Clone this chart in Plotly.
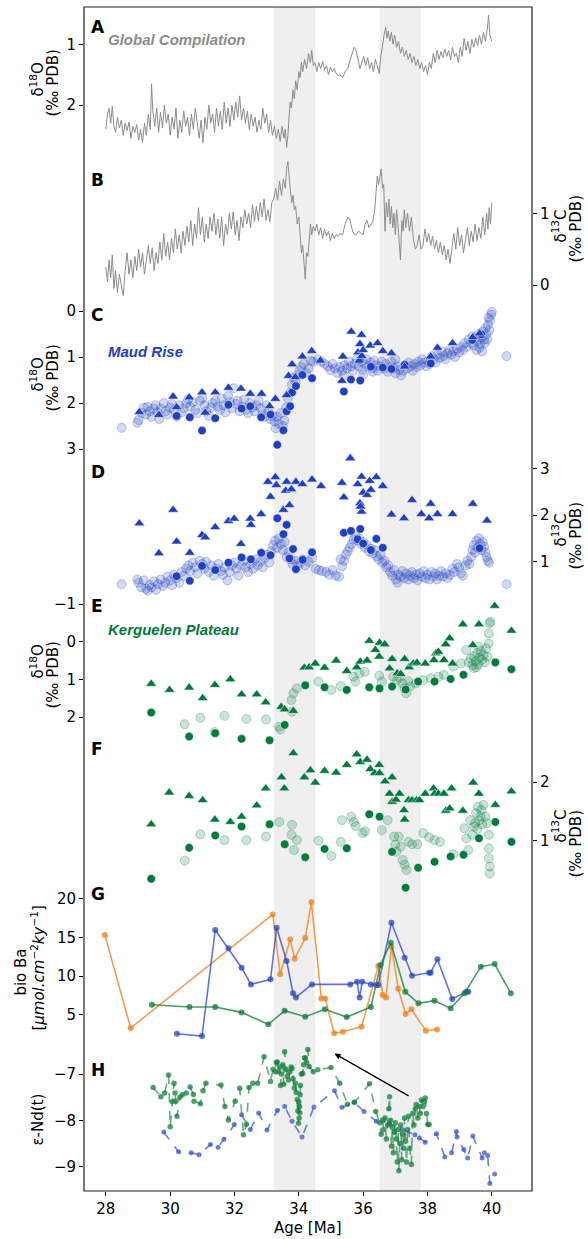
import plotly.graph_objects as go

# ---------------- DATA ----------------
age_ticks = [28, 30, 32, 34, 36, 38, 40]
shade_bands = [(33.22, 34.51), (36.51, 37.80)]

# A: global compilation d18O (age, value)
a_global_d18o = [
(28.00,2.40),(28.05,2.15),(28.10,2.05),(28.15,2.30),(28.20,2.02),(28.25,2.35),(28.30,2.45),(28.36,2.20),
(28.42,2.38),(28.48,2.25),(28.54,2.50),(28.60,2.30),(28.66,2.42),(28.72,2.28),(28.78,2.55),(28.84,2.35),
(28.90,2.45),(28.96,2.32),(29.02,2.58),(29.08,2.40),(29.14,2.62),(29.20,2.30),(29.26,2.50),(29.32,2.15),
(29.38,2.40),(29.42,1.65),(29.46,2.10),(29.52,2.35),(29.58,2.05),(29.64,2.45),(29.70,2.12),(29.76,2.38),
(29.82,2.00),(29.88,2.30),(29.94,2.15),(30.00,2.50),(30.06,2.20),(30.12,2.40),(30.18,2.05),(30.24,2.55),
(30.30,2.25),(30.36,2.45),(30.42,2.10),(30.48,2.35),(30.54,2.20),(30.60,2.50),(30.66,2.15),(30.72,2.40),
(30.78,2.05),(30.84,2.30),(30.90,2.55),(30.96,2.25),(31.02,2.62),(31.08,2.20),(31.14,2.40),(31.20,2.00),
(31.26,2.30),(31.32,2.15),(31.38,2.45),(31.44,2.05),(31.50,2.35),(31.56,2.10),(31.62,2.40),(31.68,1.95),
(31.74,2.30),(31.80,2.05),(31.86,2.35),(31.92,2.00),(31.98,2.25),(32.04,1.95),(32.10,2.20),(32.16,1.85),
(32.22,2.25),(32.28,2.05),(32.34,2.30),(32.40,2.10),(32.46,2.40),(32.52,2.15),(32.58,2.35),(32.64,2.20),
(32.70,2.45),(32.76,2.25),(32.82,2.40),(32.88,2.05),(32.94,2.30),(33.00,2.15),(33.06,2.45),(33.12,2.25),
(33.18,2.50),(33.24,2.35),(33.30,2.55),(33.36,2.40),(33.42,2.60),(33.48,2.35),(33.54,2.55),(33.58,2.40),
(33.62,2.70),(33.66,2.50),(33.70,2.20),(33.73,1.95),(33.77,2.05),(33.82,1.75),(33.86,1.90),(33.90,1.60),
(33.95,1.75),(34.00,1.45),(34.04,1.55),(34.08,1.30),(34.12,1.45),(34.18,1.25),(34.24,1.40),(34.30,1.15),
(34.36,1.30),(34.40,1.10),(34.45,1.35),(34.50,1.30),(34.56,1.45),(34.62,1.30),(34.68,1.40),(34.74,1.28),
(34.80,1.42),(34.86,1.35),(34.92,1.50),(34.98,1.38),(35.04,1.45),(35.10,1.40),(35.16,1.48),(35.22,1.52),
(35.28,1.50),(35.36,1.55),(35.44,1.45),(35.52,1.40),(35.60,1.25),(35.66,1.15),(35.72,1.05),(35.78,1.10),
(35.84,1.25),(35.90,1.40),(35.96,1.30),(36.02,1.20),(36.08,1.35),(36.14,1.22),(36.20,1.40),(36.26,1.30),
(36.32,1.45),(36.38,1.25),(36.44,1.35),(36.50,1.48),(36.55,1.20),(36.60,1.00),(36.65,0.85),(36.70,0.72),
(36.74,0.90),(36.78,0.78),(36.83,0.95),(36.88,0.80),(36.93,1.00),(36.98,0.85),(37.04,1.05),(37.10,0.95),
(37.16,1.15),(37.22,1.05),(37.28,1.20),(37.34,1.10),(37.40,1.25),(37.46,1.15),(37.52,1.30),(37.58,1.20),
(37.64,1.35),(37.70,1.25),(37.76,1.40),(37.82,1.30),(37.88,1.45),(37.94,1.35),(38.00,1.50),(38.06,1.30),
(38.12,1.40),(38.18,1.15),(38.24,1.30),(38.30,1.10),(38.36,1.25),(38.42,1.12),(38.48,1.22),(38.54,1.08),
(38.60,1.20),(38.66,1.10),(38.72,1.25),(38.78,1.05),(38.84,1.20),(38.90,1.15),(38.96,1.30),(39.02,1.05),
(39.08,1.20),(39.14,0.90),(39.20,1.10),(39.26,0.95),(39.32,1.15),(39.38,0.92),(39.44,1.05),(39.50,0.90),
(39.56,1.02),(39.62,0.85),(39.68,1.00),(39.74,0.80),(39.80,0.95),(39.86,0.75),(39.90,0.52),(39.94,0.85),
(40.00,0.95)]

# B: global compilation d13C
b_global_d13c = [
(28.00,0.25),(28.05,0.05),(28.10,0.35),(28.15,0.10),(28.20,0.42),(28.25,-0.05),(28.30,0.20),(28.36,-0.10),
(28.42,0.15),(28.48,-0.02),(28.54,-0.15),(28.60,0.20),(28.66,0.45),(28.72,0.15),(28.78,0.35),(28.84,0.10),
(28.90,0.40),(28.96,0.20),(29.02,0.50),(29.08,0.25),(29.14,0.45),(29.20,0.15),(29.26,0.38),(29.32,0.55),
(29.38,0.30),(29.44,0.52),(29.50,0.20),(29.56,0.45),(29.62,0.30),(29.68,0.60),(29.74,0.35),(29.80,0.72),
(29.86,0.40),(29.92,0.60),(29.98,0.35),(30.04,0.65),(30.10,0.45),(30.16,0.78),(30.22,0.50),(30.28,0.70),
(30.34,0.45),(30.40,0.75),(30.46,0.55),(30.52,0.82),(30.58,0.60),(30.64,0.90),(30.70,0.55),(30.76,0.85),
(30.82,0.65),(30.88,1.08),(30.94,0.70),(31.00,0.95),(31.06,0.60),(31.12,0.85),(31.18,0.65),(31.24,0.95),
(31.30,0.75),(31.36,1.00),(31.42,0.70),(31.48,0.92),(31.54,0.65),(31.60,0.95),(31.66,0.55),(31.72,0.85),
(31.78,0.70),(31.84,1.00),(31.90,0.78),(31.96,1.02),(32.02,0.70),(32.08,0.90),(32.14,0.62),(32.20,0.95),
(32.26,0.80),(32.32,1.05),(32.38,0.85),(32.44,1.00),(32.50,0.80),(32.56,1.12),(32.62,0.88),(32.68,1.10),
(32.74,0.90),(32.80,1.15),(32.86,0.95),(32.92,1.20),(32.98,0.90),(33.04,1.05),(33.10,0.88),(33.16,1.15),
(33.22,1.20),(33.28,1.35),(33.34,1.18),(33.40,1.45),(33.46,1.25),(33.52,1.48),(33.58,1.35),(33.62,1.62),
(33.66,1.72),(33.70,1.45),(33.74,1.30),(33.78,1.15),(33.82,1.25),(33.86,1.05),(33.90,1.10),(33.95,0.85),
(34.00,0.95),(34.04,0.70),(34.08,0.45),(34.12,0.55),(34.16,0.35),(34.20,0.08),(34.24,0.45),(34.28,0.40),
(34.32,0.60),(34.36,0.85),(34.40,0.70),(34.45,0.82),(34.50,0.75),(34.56,0.85),(34.62,0.70),(34.68,0.80),
(34.74,0.65),(34.80,0.78),(34.86,0.68),(34.92,0.75),(34.98,0.62),(35.04,0.72),(35.10,0.65),(35.16,0.70),
(35.22,0.68),(35.28,0.72),(35.36,0.70),(35.44,0.85),(35.52,0.95),(35.58,0.92),(35.64,0.80),(35.70,0.72),
(35.78,0.70),(35.86,0.75),(35.94,0.72),(36.00,0.70),(36.06,0.85),(36.12,0.90),(36.18,0.80),(36.24,0.85),
(36.30,0.88),(36.36,1.05),(36.40,1.30),(36.44,1.52),(36.48,1.40),(36.52,1.55),(36.56,1.62),(36.60,1.35),
(36.64,1.40),(36.68,0.75),(36.72,1.15),(36.76,0.95),(36.80,1.20),(36.84,0.85),(36.88,1.10),(36.92,0.80),
(36.96,1.00),(37.00,0.70),(37.04,1.05),(37.08,0.85),(37.12,0.60),(37.16,0.35),(37.20,0.90),(37.24,0.75),
(37.28,1.05),(37.32,0.80),(37.38,1.00),(37.44,0.75),(37.50,0.95),(37.56,0.65),(37.62,0.50),(37.68,0.55),
(37.74,0.70),(37.80,0.50),(37.86,0.55),(37.92,0.78),(37.98,0.60),(38.04,0.72),(38.10,0.55),(38.16,0.68),
(38.22,0.50),(38.28,0.62),(38.34,0.45),(38.40,0.60),(38.46,0.42),(38.52,0.55),(38.58,0.35),(38.64,0.50),
(38.70,0.30),(38.76,0.55),(38.82,0.72),(38.88,0.50),(38.94,0.80),(39.00,0.55),(39.06,0.70),(39.12,0.45),
(39.18,0.65),(39.24,0.80),(39.30,0.55),(39.36,0.75),(39.42,0.60),(39.48,0.85),(39.54,0.62),(39.60,0.80),
(39.66,0.65),(39.72,0.95),(39.78,0.70),(39.84,1.00),(39.88,0.78),(39.92,1.08),(39.96,0.85),(40.00,1.15)]

# C: Maud Rise d18O
c_maud_tri = [
(29.04,2.20),(29.65,2.26),(30.09,1.86),(30.20,2.09),(30.59,1.88),(30.99,1.77),(31.09,2.21),(31.40,1.77),
(31.81,1.67),(32.20,1.69),(32.49,1.80),(32.84,1.80),(33.09,2.07),(33.27,1.91),(33.62,1.83),(33.68,1.41),
(33.79,1.16),(33.89,1.44),(34.11,0.99),(34.40,0.87),(34.67,1.08),(35.37,0.99),(35.34,1.52),(35.63,0.45),
(35.60,3.19),(35.95,0.52),(35.90,0.72),(35.84,0.90),(35.88,1.08),(35.96,0.98),(36.00,0.85),(36.22,0.75),
(36.45,0.70),(36.61,0.87),(36.88,0.92),(37.29,1.21),(38.10,0.99),(38.31,0.80),(38.78,0.70),(39.41,0.57),
(39.62,0.49)]
c_maud_dot = [
(30.20,2.28),(30.61,2.31),(30.99,2.60),(31.40,2.33),(31.81,2.04),(32.22,2.12),(32.49,2.07),(32.83,2.31),
(33.12,2.25),(33.33,2.91),(33.52,2.59),(33.62,2.18),(33.73,2.07),(33.79,1.77),(33.91,1.63),(34.11,1.39),
(34.41,1.46),(35.40,1.75),(35.62,1.49),(35.91,1.51),(35.90,1.07),(36.24,1.21),(36.61,1.23),(36.88,1.26),
(37.29,1.17),(38.10,1.14),(39.39,0.63),(39.68,0.51)]
c_maud_light = [
(28.49,2.54),(28.98,2.43),(29.02,2.37),(29.10,2.22),(29.18,2.10),(29.25,2.25),(29.30,2.08),(29.36,2.18),
(29.42,2.30),(29.48,2.12),(29.55,2.05),(29.60,2.20),(29.66,2.35),(29.72,2.12),(29.80,2.00),(29.86,2.18),
(29.92,2.25),(30.00,2.10),(30.05,2.02),(30.12,2.15),(30.20,2.30),(30.28,2.05),(30.35,2.20),(30.42,2.12),
(30.50,2.00),(30.56,1.92),(30.62,2.08),(30.70,1.98),(30.78,2.15),(30.85,2.22),(30.92,1.95),(31.00,1.90),
(31.06,2.05),(31.12,2.18),(31.20,2.28),(31.26,2.10),(31.32,2.00),(31.40,1.95),(31.48,2.08),(31.55,2.15),
(31.60,1.90),(31.66,2.05),(31.72,2.20),(31.80,1.85),(31.86,1.98),(31.92,2.12),(31.98,1.68),(32.04,2.02),
(32.10,1.95),(32.16,2.18),(32.24,2.08),(32.30,1.92),(32.36,2.15),(32.42,2.22),(32.48,2.00),(32.55,2.10),
(32.62,2.18),(32.68,2.05),(32.75,1.95),(32.82,2.12),(32.88,2.25),(32.95,2.30),(33.00,2.05),(33.06,2.18),
(33.12,2.35),(33.18,2.28),(33.24,2.40),(33.28,2.55),(33.32,2.30),(33.38,2.45),(33.44,2.22),(33.50,2.50),
(33.55,2.38),(33.60,2.10),(33.66,1.90),(33.72,1.78),(33.78,1.60),(33.84,1.45),(33.90,1.55),(33.96,1.40),
(34.02,1.30),(34.08,1.22),(34.15,1.15),(34.22,1.35),(34.30,1.25),(34.38,1.08),(34.45,1.10),(34.60,1.05),
(34.70,1.10),(34.80,1.15),(34.90,1.20),(34.98,1.28),(35.05,1.15),(35.12,1.25),(35.20,1.35),(35.28,1.22),
(35.35,1.30),(35.40,1.40),(35.42,1.18),(35.50,1.25),(35.56,1.10),(35.62,1.20),(35.68,1.30),(35.74,1.15),
(35.80,1.05),(35.86,1.20),(35.92,1.10),(35.98,1.28),(36.00,1.38),(36.04,1.15),(36.10,1.05),(36.16,1.20),
(36.22,1.12),(36.28,1.25),(36.30,1.32),(36.34,1.08),(36.40,1.18),(36.46,1.30),(36.52,1.20),(36.58,1.10),
(36.64,1.25),(36.70,1.15),(36.76,1.32),(36.82,1.22),(36.88,1.10),(36.94,1.25),(37.00,1.35),(37.00,1.05),
(37.06,1.20),(37.12,1.28),(37.18,1.40),(37.24,1.30),(37.30,1.18),(37.36,1.25),(37.42,1.12),(37.48,1.20),
(37.54,1.30),(37.60,1.15),(37.66,1.22),(37.72,1.10),(37.78,1.18),(37.84,1.05),(37.90,1.12),(37.96,1.20),
(38.02,1.08),(38.08,1.15),(38.14,0.98),(38.20,1.05),(38.26,1.12),(38.32,0.95),(38.38,1.02),(38.44,0.88),
(38.50,0.98),(38.56,1.05),(38.62,0.92),(38.68,0.85),(38.74,0.95),(38.80,0.88),(38.86,1.00),(38.92,0.82),
(38.98,0.90),(39.04,0.78),(39.10,0.85),(39.16,0.70),(39.22,0.78),(39.28,0.62),(39.34,0.70),(39.40,0.55),
(39.44,0.75),(39.48,0.60),(39.52,0.85),(39.56,0.65),(39.60,0.50),(39.62,0.80),(39.64,0.72),(39.68,0.58),
(39.70,0.88),(39.72,0.45),(39.76,0.62),(39.78,0.70),(39.80,0.38),(39.84,0.50),(39.86,0.62),(39.88,0.30),
(39.90,0.15),(39.92,0.42),(39.95,0.20),(39.98,0.08),(40.00,0.02),(40.46,0.98)]

# D: Maud Rise d13C
d_maud_tri = [
(29.04,1.82),(29.65,1.18),(30.09,2.11),(30.20,1.43),(30.61,1.19),(30.99,1.57),(31.09,1.52),(31.40,1.74),
(31.81,1.87),(31.99,1.92),(32.20,1.38),(32.49,1.92),(32.51,1.79),(32.83,2.02),(33.04,2.71),(33.27,2.81),
(33.30,2.64),(33.12,2.39),(33.52,2.11),(33.71,2.21),(33.62,2.71),(33.59,2.52),(33.77,2.55),(33.91,2.71),
(34.11,2.66),(34.41,2.76),(34.69,2.62),(35.34,2.69),(35.40,2.38),(35.60,3.21),(35.83,2.66),(35.95,2.82),
(35.90,2.25),(35.95,2.07),(35.92,2.18),(36.00,2.48),(36.12,2.43),(36.24,2.54),(36.41,2.81),(36.20,2.73),
(36.61,2.62),(36.88,2.01),(37.27,1.93),(37.52,2.32),(37.81,2.02),(38.05,1.93),(38.10,2.24),(38.31,2.02),
(38.78,2.02),(39.41,2.24),(39.85,1.88)]
d_maud_dot = [
(30.20,0.69),(30.61,0.59),(30.99,0.91),(31.40,0.82),(31.81,0.98),(32.22,1.09),(32.51,1.05),(32.83,1.19),
(33.12,1.14),(33.33,1.93),(33.62,1.79),(33.52,1.59),(33.82,1.27),(33.71,1.07),(33.91,0.84),(34.12,1.04),
(34.41,1.20),(35.40,1.62),(35.62,1.66),(35.91,1.70),(35.83,1.48),(36.00,1.39),(36.24,1.25),(36.41,1.49),
(36.61,1.30),(39.62,1.29)]
d_maud_light = [
(28.49,0.52),(28.98,0.62),(29.02,0.55),(29.10,0.45),(29.18,0.60),(29.25,0.42),(29.30,0.38),(29.36,0.50),
(29.42,0.45),(29.50,0.58),(29.56,0.40),(29.62,0.52),(29.70,0.62),(29.78,0.48),(29.85,0.55),(29.92,0.68),
(30.00,0.60),(30.06,0.50),(30.12,0.72),(30.20,0.65),(30.28,0.55),(30.35,0.78),(30.42,0.70),(30.50,0.85),
(30.56,0.92),(30.62,0.80),(30.70,0.98),(30.78,0.88),(30.85,0.75),(30.92,1.02),(31.00,0.95),(31.06,0.85),
(31.12,1.00),(31.20,0.78),(31.28,0.92),(31.35,0.70),(31.42,0.85),(31.50,0.95),(31.58,0.80),(31.64,0.72),
(31.70,0.88),(31.78,0.60),(31.85,0.78),(31.92,0.92),(32.00,0.98),(32.06,0.85),(32.12,0.70),(32.20,0.92),
(32.28,1.02),(32.35,0.88),(32.42,0.78),(32.50,0.95),(32.58,0.85),(32.65,1.05),(32.72,0.92),(32.80,1.00),
(32.88,0.88),(32.95,1.08),(33.02,1.15),(33.08,0.98),(33.14,1.22),(33.20,1.35),(33.26,1.45),(33.32,1.30),
(33.38,1.50),(33.44,1.38),(33.50,1.25),(33.56,1.42),(33.62,1.10),(33.68,1.20),(33.74,1.05),(33.80,0.95),
(33.88,1.02),(33.96,0.90),(34.04,0.98),(34.12,1.05),(34.20,0.92),(34.30,1.00),(34.42,1.08),(34.52,0.85),
(34.62,0.82),(34.72,0.80),(34.85,0.78),(34.95,0.72),(35.05,0.82),(35.15,0.70),(35.25,0.68),(35.30,1.05),
(35.35,0.90),(35.40,1.02),(35.46,1.15),(35.52,1.22),(35.58,1.30),(35.64,1.38),(35.70,1.48),(35.76,1.55),
(35.82,1.45),(35.88,1.50),(35.94,1.38),(36.00,1.42),(36.06,1.30),(36.12,1.35),(36.18,1.22),(36.24,1.28),
(36.30,1.18),(36.36,1.25),(36.42,1.12),(36.48,1.05),(36.54,1.15),(36.60,0.98),(36.66,1.02),(36.72,0.88),
(36.78,0.92),(36.84,0.78),(36.90,0.70),(36.96,0.82),(37.02,0.62),(37.07,0.55),(37.10,0.72),(37.16,0.68),
(37.22,0.80),(37.28,0.65),(37.34,0.75),(37.40,0.62),(37.46,0.70),(37.52,0.78),(37.58,0.65),(37.64,0.72),
(37.70,0.60),(37.76,0.75),(37.82,0.68),(37.88,0.80),(37.94,0.65),(38.00,0.72),(38.06,0.62),(38.12,0.78),
(38.18,0.68),(38.24,0.75),(38.30,0.62),(38.36,0.70),(38.42,0.80),(38.48,0.68),(38.56,0.75),(38.62,0.65),
(38.70,0.72),(38.78,0.85),(38.84,0.78),(38.92,0.95),(38.98,0.88),(39.04,0.75),(39.10,0.70),(39.18,0.92),
(39.24,1.02),(39.30,0.95),(39.36,1.10),(39.40,1.25),(39.44,1.35),(39.48,1.20),(39.52,1.45),(39.56,1.30),
(39.60,1.50),(39.64,1.38),(39.68,1.25),(39.72,1.42),(39.76,1.32),(39.80,1.20),(39.84,1.10),(39.88,1.02),
(39.92,0.98),(40.46,0.52)]

# E: Kerguelen Plateau d18O
e_kerg_tri = [
(29.41,1.12),(29.98,1.28),(30.59,1.22),(31.01,1.50),(31.39,1.15),(31.87,1.00),(32.22,1.40),(32.69,1.40),
(32.97,1.61),(33.45,1.73),(33.56,1.80),(33.83,1.84),(34.17,0.69),(34.32,0.68),(34.51,0.58),(34.80,0.69),
(35.16,0.50),(35.49,0.78),(35.80,0.68),(35.91,0.53),(36.12,0.50),(36.19,-0.02),(36.38,0.22),(36.51,0.03),
(36.67,0.07),(36.50,0.40),(36.82,0.71),(36.90,0.46),(37.06,0.84),(37.17,0.86),(37.29,0.46),(37.43,0.68),
(37.56,0.58),(37.67,0.56),(37.93,0.58),(38.20,0.49),(38.26,0.31),(38.34,0.27),(38.51,0.49),(38.69,-0.09),
(38.57,0.07),(38.78,0.58),(39.10,-0.46),(39.41,0.09),(39.60,-0.46),(40.09,-0.95),(40.61,-0.29)]
e_kerg_dot = [
(29.41,1.88),(30.59,2.52),(31.40,2.43),(32.22,2.58),(33.09,2.62),(33.56,2.21),(34.20,1.16),(34.80,1.21),
(35.49,1.28),(36.19,1.21),(36.51,1.24),(36.90,1.19),(37.32,1.27),(37.71,1.06),(38.22,1.06),(38.72,0.99),
(39.12,0.88),(40.11,0.55),(40.61,0.73)]
e_kerg_light = [
(30.45,2.19),(30.94,2.02),(31.38,2.40),(31.69,1.97),(32.37,2.05),(32.98,2.06),(33.39,2.26),(33.42,2.33),
(33.79,1.86),(33.77,1.55),(33.83,1.37),(33.94,1.24),(34.61,1.06),(35.01,1.28),(35.30,1.18),(35.70,0.93),
(35.76,1.06),(35.88,0.84),(36.05,0.80),(36.50,0.90),(36.58,1.06),(36.93,0.93),(37.05,1.02),(37.12,0.95),
(37.22,1.11),(37.28,1.24),(37.34,1.37),(37.40,1.05),(37.46,1.19),(37.64,1.11),(37.87,1.02),(38.10,0.97),
(38.34,0.93),(38.51,0.88),(38.80,0.66),(39.04,0.58),(39.21,0.22),(39.28,0.55),(39.34,0.45),(39.40,0.62),
(39.44,0.70),(39.45,0.38),(39.50,0.52),(39.52,0.68),(39.55,0.30),(39.58,0.60),(39.60,0.13),(39.62,0.42),
(39.66,0.25),(39.70,0.48),(39.74,0.35),(39.78,0.55),(39.82,0.18),(39.86,0.40),(39.90,0.05),(39.91,-0.22),
(39.93,-0.49),(39.96,-0.53)]

# F: Kerguelen Plateau d13C
f_kerg_tri = [
(29.41,1.28),(29.97,1.82),(30.59,1.76),(31.01,1.69),(31.39,1.36),(31.87,1.32),(32.22,1.41),(32.69,1.60),
(32.97,1.89),(33.46,2.08),(33.55,1.89),(33.83,2.49),(34.17,2.08),(34.36,2.20),(34.51,1.99),(34.80,2.19),
(35.16,2.16),(35.49,2.29),(35.80,2.47),(35.91,2.34),(36.12,2.38),(36.22,2.22),(36.36,2.15),(36.50,2.29),
(36.51,2.15),(36.68,2.01),(36.90,2.08),(36.82,1.80),(36.90,1.66),(37.02,1.70),(37.13,1.80),(37.27,1.52),
(37.29,1.36),(37.41,1.69),(37.52,1.69),(37.66,1.69),(37.75,1.69),(37.93,1.80),(38.19,1.89),(38.22,1.80),
(38.34,1.80),(38.51,1.80),(38.57,1.51),(38.69,1.55),(38.75,1.89),(39.10,1.51),(39.42,1.99),(39.60,1.80),
(40.11,1.61),(40.61,1.84)]
f_kerg_dot = [
(29.41,0.35),(30.59,0.88),(31.40,1.09),(32.22,1.24),(33.09,1.28),(33.56,0.94),(34.20,0.72),(34.80,0.86),
(35.49,0.87),(36.19,1.45),(36.51,1.41),(36.90,0.81),(37.32,0.20),(37.71,0.54),(38.22,0.64),(38.72,0.73),
(39.12,0.76),(39.60,1.04),(40.11,1.32),(40.61,0.98)]
f_kerg_light = [
(30.45,0.66),(30.94,1.11),(31.69,1.01),(32.37,1.01),(32.98,1.07),(33.39,1.32),(33.79,1.27),(33.77,1.10),
(33.85,0.84),(33.94,1.01),(34.61,1.00),(35.01,0.74),(35.30,0.98),(35.34,1.35),(35.63,1.41),(35.71,1.32),
(35.77,1.25),(35.98,1.13),(36.06,1.16),(36.58,1.18),(36.76,1.35),(36.96,1.07),(37.00,0.93),(37.03,0.81),
(37.11,1.07),(37.17,0.90),(37.23,0.67),(37.29,0.59),(37.35,0.50),(37.41,0.98),(37.52,0.94),(37.69,0.94),
(37.87,1.13),(38.05,1.06),(38.22,1.01),(38.39,0.98),(38.80,0.77),(39.15,1.21),(39.21,1.04),(39.27,0.84),
(39.33,1.35),(39.39,1.10),(39.45,1.24),(39.51,1.47),(39.57,1.58),(39.62,1.35),(39.68,1.52),(39.74,1.61),
(39.80,1.41),(39.85,1.30),(39.91,1.10),(39.91,0.87),(39.91,0.70),(39.94,0.56),(39.94,0.44),(39.48,1.30),
(39.55,1.20),(39.65,1.42),(39.70,1.28)]

# G: biogenic barium
g_ba_orange = [
(27.97,15.3),(28.77,3.28),(33.19,17.97),(33.42,10.22),(33.73,14.74),(33.87,12.24),(34.20,14.91),(34.39,19.57),
(34.70,7.11),(34.82,7.11),(35.10,2.59),(35.37,2.80),(35.95,3.45),(36.47,11.29),(36.61,7.54),(36.71,7.24),
(36.88,13.79),(37.09,8.36),(37.32,5.09),(37.50,5.69),(37.95,2.93),(38.30,3.10)]
g_ba_blue = [
(30.21,2.54),(30.99,2.24),(31.40,15.95),(31.81,13.58),(32.22,11.08),(32.51,8.92),(33.12,9.57),(33.31,16.25),
(33.62,11.94),(33.82,7.76),(33.91,7.24),(34.41,8.92),(35.60,8.92),(35.81,9.27),(35.89,7.24),(35.97,9.27),
(36.24,8.92),(36.41,8.84),(36.47,8.84),(36.88,16.90),(37.29,12.37),(37.52,10.04),(38.05,10.43),(38.10,10.43),
(38.31,12.16),(38.77,7.03),(39.21,7.97),(39.27,7.97)]
g_ba_green = [
(29.43,6.29),(30.60,5.99),(31.40,5.99),(32.22,5.30),(33.05,3.75),(33.56,5.52),(34.20,4.74),(34.81,5.69),
(35.49,4.70),(36.24,5.99),(36.54,11.42),(36.86,14.31),(37.31,7.97),(37.72,6.47),(38.22,6.81),(38.72,5.82),
(39.15,7.76),(39.66,11.21),(40.09,11.55),(40.59,7.76)]

# H: eps-Nd
h_end_blue = [
(29.80,-8.25),(30.26,-8.68),(30.65,-8.70),(30.90,-8.74),(31.25,-8.52),(31.49,-8.58),(31.67,-8.41),(31.99,-8.09),
(32.22,-7.88),(32.49,-8.20),(32.75,-7.84),(33.01,-8.21),(33.33,-7.79),(33.56,-7.70),(33.79,-8.02),(34.10,-8.36),
(34.47,-7.71),(35.11,-7.36),(35.34,-7.72),(35.72,-7.61),(36.03,-7.81),(36.41,-8.02),(36.82,-8.07),(37.23,-8.20),
(37.61,-8.31),(37.75,-8.38),(37.93,-8.47),(38.28,-8.29),(38.54,-8.79),(38.75,-8.70),(38.90,-8.24),(38.92,-8.36),
(39.13,-8.63),(39.25,-8.81),(39.41,-8.34),(39.70,-8.81),(39.77,-8.70),(39.87,-8.76),(39.94,-9.36),(40.09,-9.16)]
h_end_green = [
(29.47,-7.29),(29.71,-7.49),(29.83,-7.41),(29.95,-7.02),(30.00,-8.14),(30.06,-7.60),(30.12,-7.20),(30.15,-7.41),
(30.18,-7.59),(30.21,-7.91),(30.30,-7.50),(30.38,-7.45),(30.50,-7.41),(30.62,-7.28),(30.72,-7.44),(30.74,-7.59),
(30.94,-7.64),(31.02,-7.36),(31.11,-7.20),(31.58,-7.24),(31.70,-7.70),(31.81,-7.99),(32.02,-7.59),(32.16,-7.31),
(32.28,-8.31),(32.37,-8.09),(32.45,-7.29),(32.57,-7.20),(32.72,-7.20),(32.92,-6.63),(33.12,-7.16),(33.20,-6.90),
(33.27,-6.95),(33.30,-6.75),(33.33,-6.74),(33.36,-6.95),(33.40,-6.85),(33.43,-7.25),(33.46,-7.00),(33.50,-6.80),
(33.53,-7.22),(33.56,-6.52),(33.60,-6.90),(33.64,-7.05),(33.68,-7.13),(33.72,-6.95),(33.76,-6.85),(33.79,-6.88),
(33.82,-7.10),(33.86,-7.30),(33.89,-7.20),(33.92,-7.40),(33.95,-7.55),(33.97,-7.80),(33.99,-8.06),(34.00,-7.60),
(34.01,-7.95),(34.02,-7.70),(34.03,-7.84),(34.04,-7.45),(34.05,-7.25),(34.08,-7.00),(34.12,-6.99),(34.15,-6.80),
(34.18,-6.65),(34.20,-6.66),(34.24,-6.75),(34.28,-6.47),(34.32,-6.84),(34.45,-6.95),(34.59,-6.91),(35.00,-6.86),
(35.27,-7.20),(35.51,-7.65),(35.73,-7.61),(36.20,-7.21),(36.39,-7.81),(36.52,-8.05),(36.56,-8.30),(36.60,-8.00),
(36.64,-8.20),(36.68,-7.95),(36.72,-8.40),(36.76,-8.10),(36.80,-7.75),(36.82,-7.49),(36.85,-8.00),(36.88,-8.56),
(36.91,-8.15),(36.94,-8.70),(36.97,-8.25),(37.00,-8.05),(37.03,-8.40),(37.06,-8.90),(37.09,-8.20),(37.11,-9.09),
(37.14,-8.50),(37.17,-8.10),(37.20,-8.85),(37.23,-8.30),(37.26,-8.60),(37.29,-7.95),(37.32,-8.45),(37.35,-8.90),
(37.38,-8.20),(37.41,-7.91),(37.45,-8.60),(37.50,-8.95),(37.54,-7.85),(37.58,-8.10),(37.62,-7.75),(37.65,-7.66),
(37.70,-7.95),(37.74,-7.70),(37.78,-7.85),(37.81,-7.56),(37.86,-7.70),(37.90,-7.60),(37.93,-7.52),(37.97,-7.85),
(38.01,-8.09),(38.05,-8.09)]
h_arrow = ((37.46, -7.49), (35.11, -6.56))  # (tail, head) in age / eps-Nd

# ---------------- STYLE ----------------
GRAY = "#8c8c8c"
BLUE = "#1f3fc4"
BLUE_LIGHT = "rgba(31,63,196,0.20)"
BLUE_LIGHT_EDGE = "rgba(31,63,196,0.28)"
GREEN = "#007a3d"
GREEN_LIGHT = "rgba(0,122,61,0.20)"
GREEN_LIGHT_EDGE = "rgba(0,122,61,0.28)"
FS = 15
TICKFONT = dict(family="DejaVu Sans", size=FS, color="black")

L, R, T, B = 84.4, 532.5, 7.0, 1191.0
W, H = 588, 1239
PH = B - T
PW = R - L


def yrange(v1, p1, v2, p2):
    slope = (v2 - v1) / (p2 - p1)
    return [v1 + (B - p1) * slope, v1 + (T - p1) * slope]


def px_x(p):
    return (p - L) / PW


def px_y(p):
    return (B - p) / PH


def unzip(pairs):
    return [p[0] for p in pairs], [p[1] for p in pairs]


fig = go.Figure()

axes = {
    "y2": (yrange(1, 44.3, 2, 105.0), [1, 2], "left"),          # A
    "y3": (yrange(1, 213.3, 0, 285.0), [0, 1], "right"),        # B
    "y4": (yrange(0, 311.0, 3, 449.0), [0, 1, 2, 3], "left"),   # C
    "y5": (yrange(3, 468.3, 1, 561.7), [1, 2, 3], "right"),     # D
    "y6": (yrange(-1, 604.0, 2, 717.0), [-1, 0, 1, 2], "left"), # E
    "y7": (yrange(2, 782.0, 1, 840.7), [1, 2], "right"),        # F
    "y8": (yrange(20, 898.7, 5, 1014.7), [5, 10, 15, 20], "left"),  # G
    "y": (yrange(-7, 1074.0, -9, 1166.7), [-9, -8, -7], "left"),    # H
}


def tick_text(vals):
    return [("\u2212" + str(abs(v))) if v < 0 else str(v) for v in vals]


def scat(pairs, yax, mode="markers", **kw):
    x, y = unzip(pairs)
    fig.add_trace(go.Scatter(x=x, y=y, yaxis=yax, xaxis="x", mode=mode,
                             showlegend=False, hoverinfo="skip", **kw))


scat(a_global_d18o, "y2", mode="lines", line=dict(color=GRAY, width=1))
scat(b_global_d13c, "y3", mode="lines", line=dict(color=GRAY, width=1))

for light, dot, tri, yax, col, lfill, ledge in [
    (c_maud_light, c_maud_dot, c_maud_tri, "y4", BLUE, BLUE_LIGHT, BLUE_LIGHT_EDGE),
    (d_maud_light, d_maud_dot, d_maud_tri, "y5", BLUE, BLUE_LIGHT, BLUE_LIGHT_EDGE),
    (e_kerg_light, e_kerg_dot, e_kerg_tri, "y6", GREEN, GREEN_LIGHT, GREEN_LIGHT_EDGE),
    (f_kerg_light, f_kerg_dot, f_kerg_tri, "y7", GREEN, GREEN_LIGHT, GREEN_LIGHT_EDGE),
]:
    scat(light, yax, marker=dict(symbol="circle", size=9, color=lfill,
                                  line=dict(color=ledge, width=1)))
    scat(dot, yax, marker=dict(symbol="circle", size=8.5, color=col,
                                line=dict(color="white", width=0.5)))
    scat(tri, yax, marker=dict(symbol="triangle-up", size=9.5, color=col,
                                line=dict(color="white", width=0.5)))

for pairs, col in [(g_ba_orange, "rgba(245,130,32,0.78)"),
                   (g_ba_blue, "rgba(40,70,200,0.75)"),
                   (g_ba_green, "rgba(20,128,60,0.78)")]:
    scat(pairs, "y8", mode="lines+markers", line=dict(color=col, width=1.6),
         marker=dict(size=6, color=col))

scat(h_end_blue, "y", mode="lines+markers",
     line=dict(color="rgba(60,85,210,0.75)", width=1.6, dash="dash"),
     marker=dict(size=5, color="rgba(60,85,210,0.75)"))
scat(h_end_green, "y", mode="lines+markers",
     line=dict(color="rgba(20,128,60,0.65)", width=1.6, dash="dash"),
     marker=dict(size=5.5, color="rgba(20,128,60,0.75)"))

layout = dict(
    width=W, height=H,
    margin=dict(l=L, r=W - R, t=T, b=H - B, pad=0),
    paper_bgcolor="white", plot_bgcolor="white",
    showlegend=False,
    hovermode=False,
    xaxis=dict(range=[27.32, 41.25], tickvals=age_ticks, ticktext=[str(t) for t in age_ticks],
               ticks="outside", ticklen=4, tickwidth=1, tickcolor="black",
               showgrid=False, zeroline=False, showline=False, tickfont=TICKFONT,
               automargin=False),
)

for name, (rng, tv, side) in axes.items():
    key = "yaxis" if name == "y" else "yaxis" + name[1:]
    d = dict(range=rng, tickvals=tv, ticktext=tick_text(tv), side=side,
             ticks="outside", ticklen=4, tickwidth=1, tickcolor="black",
             showgrid=False, zeroline=False, showline=False, tickfont=TICKFONT,
             anchor="x", automargin=False)
    if name != "y":
        d["overlaying"] = "y"
    layout[key] = d

shapes = []
for x0, x1 in shade_bands:
    shapes.append(dict(type="rect", xref="x", yref="paper", x0=x0, x1=x1, y0=0, y1=1,
                       fillcolor="#efefef", line=dict(width=0), layer="below"))
shapes.append(dict(type="rect", xref="paper", yref="paper", x0=0, x1=1, y0=0, y1=1,
                   line=dict(color="#222", width=1.2), fillcolor="rgba(0,0,0,0)", layer="above"))
layout["shapes"] = shapes

ann = []
for letter, py in [("A", 27), ("B", 180), ("C", 315), ("D", 472),
                   ("E", 606), ("F", 749), ("G", 894), ("H", 1070)]:
    ann.append(dict(text="<b>%s</b>" % letter, xref="paper", yref="paper",
                    x=px_x(89), y=px_y(py), xanchor="left", yanchor="middle",
                    showarrow=False, font=dict(family="DejaVu Sans", size=17, color="black")))
for txt, py, col in [("Global Compilation", 40, GRAY), ("Maud Rise", 352, BLUE),
                     ("Kerguelen Plateau", 629, GREEN)]:
    ann.append(dict(text="<b><i>%s</i></b>" % txt, xref="paper", yref="paper",
                    x=px_x(106), y=px_y(py), xanchor="left", yanchor="middle",
                    showarrow=False, font=dict(family="Liberation Sans", size=15, color=col)))

# y-axis titles, one rotated annotation per line
d18 = "δ<sup>18</sup>O"
d13 = "δ<sup>13</sup>C"
pdb = "(‰ PDB)"
title_lines = [
    (d18, 37, 80, FS), (pdb, 53, 83, FS),
    (d18, 37, 375, FS), (pdb, 53, 378, FS),
    (d18, 37, 662, FS), (pdb, 53, 675, FS),
    (d13, 560, 226, FS), (pdb, 577, 228, FS),
    (d13, 560, 530, FS), (pdb, 577, 535, FS),
    (d13, 560, 826, FS), (pdb, 577, 843, FS),
    ("bio Ba", 21, 972, FS), ("[<i>μmol.cm</i><sup>−2</sup><i>ky</i><sup>−1</sup>]", 38, 968, FS),
    ("ε-Nd(t)", 38, 1120, FS),
]
for txt, px, py, fs in title_lines:
    ann.append(dict(text=txt, xref="paper", yref="paper", x=px_x(px), y=px_y(py),
                    xanchor="center", yanchor="middle", textangle=-90, showarrow=False,
                    font=dict(family="DejaVu Sans", size=fs, color="black")))
ann.append(dict(text="Age [Ma]", xref="paper", yref="paper", x=0.5, y=px_y(1228),
                xanchor="center", yanchor="middle", showarrow=False,
                font=dict(family="DejaVu Sans", size=FS, color="black")))
(tx, ty), (hx, hy) = h_arrow
ann.append(dict(text="", xref="x", yref="y", x=hx, y=hy, axref="x", ayref="y", ax=tx, ay=ty,
                showarrow=True, arrowhead=2, arrowsize=1, arrowwidth=1.2, arrowcolor="black"))
layout["annotations"] = ann

fig.update_layout(**layout)
# remove the default page margin so the 588x1239 figure fills the window exactly
fig.write_html("out.html",
               config={"displayModeBar": False, "staticPlot": True},
               post_script="document.body.style.margin='0px';document.body.style.overflow='hidden';")
